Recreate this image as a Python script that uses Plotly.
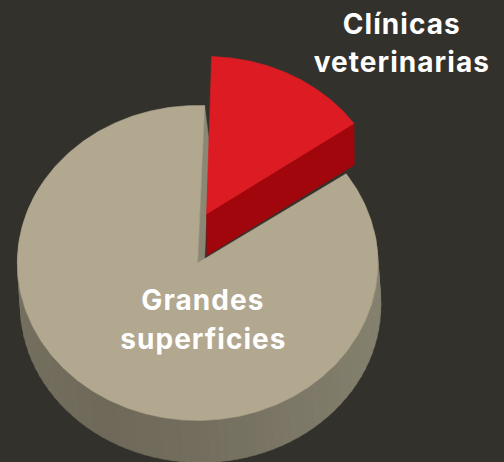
import numpy as np
import plotly.graph_objects as go

# Data
categories = ["Clínicas veterinarias", "Grandes superficies"]
shares = [14.8, 85.2]
label_lines = [["Clínicas", "veterinarias"], ["Grandes", "superficies"]]

# Style / layout
W, H = 504, 462
BG = "#33312C"
RED_TOP, RED_WALL = "#DC1B23", "#A1060C"
MAIN_TOP, MAIN_INNER = "#B2A78F", "#8B8775"
RX, RY = 180.2, 157.5
MAIN_C = (197.6, 263.0)
RED_C = (206.6, 214.0)
MAIN_DEPTH = (3.0, 42.0)
RED_DEPTH = (0.3, 41.5)
INNER_DEPTH = (5.0, 40.0)
RED_START = 1.6
MAIN_START = 55.5
FONT = "Inter"


def pt(c, deg):
    t = np.radians(deg)
    return c[0] + RX * np.sin(t), c[1] - RY * np.cos(t)


def arc(c, a, b, n=160):
    return pt(c, np.linspace(a, b, n))


def shade(deg):
    d = deg % 360
    stops_a = [80, 120, 150, 180, 210, 250, 290]
    r = np.interp(d, stops_a, [0x88, 0x82, 0x7B, 0x72, 0x6E, 0x74, 0x7C])
    g = np.interp(d, stops_a, [0x84, 0x7E, 0x76, 0x6D, 0x69, 0x6F, 0x77])
    b = np.interp(d, stops_a, [0x72, 0x6C, 0x65, 0x5C, 0x59, 0x5E, 0x66])
    return f"rgb({r:.0f},{g:.0f},{b:.0f})"


fig = go.Figure()


def poly(x, y, color):
    fig.add_trace(go.Scatter(x=x, y=y, mode="lines", fill="toself", fillcolor=color,
                             line=dict(color=color, width=0.6), hoverinfo="skip", showlegend=False))


red_sweep = shares[0] / sum(shares) * 360
main_sweep = shares[1] / sum(shares) * 360
red_end = RED_START + red_sweep
main_end = MAIN_START + main_sweep

# outer wall of the large slice, as facets
step = 3.0
for a in np.arange(78, 300, step):
    xt, yt = arc(MAIN_C, a, a + step + 0.3, 4)
    xb = xt[::-1] + MAIN_DEPTH[0]
    yb = yt[::-1] + MAIN_DEPTH[1]
    poly(np.r_[xt, xb, xt[0]], np.r_[yt, yb, yt[0]], shade(a))

# inner wall of the large slice at its cut edge
sx, sy = pt(MAIN_C, main_end)
poly([sx, MAIN_C[0], MAIN_C[0] + INNER_DEPTH[0], sx + INNER_DEPTH[0], sx],
     [sy, MAIN_C[1], MAIN_C[1] + INNER_DEPTH[1], sy + INNER_DEPTH[1], sy], MAIN_INNER)

# top of the large slice
xa, ya = arc(MAIN_C, MAIN_START, main_end, 400)
poly(np.r_[MAIN_C[0], xa, MAIN_C[0]], np.r_[MAIN_C[1], ya, MAIN_C[1]], MAIN_TOP)

# wall of the exploded slice
ex, ey = pt(RED_C, red_end)
poly([RED_C[0], ex, ex + RED_DEPTH[0], RED_C[0] + RED_DEPTH[0], RED_C[0]],
     [RED_C[1], ey, ey + RED_DEPTH[1], RED_C[1] + RED_DEPTH[1], RED_C[1]], RED_WALL)

# top of the exploded slice
xr, yr = arc(RED_C, RED_START, red_end, 120)
poly(np.r_[RED_C[0], xr, RED_C[0]], np.r_[RED_C[1], yr, RED_C[1]], RED_TOP)

label_pos = [[(401.5, 24), (401.5, 62)], [(203, 300), (203, 339)]]
annotations = []
for lines, positions in zip(label_lines, label_pos):
    for text, (x, y) in zip(lines, positions):
        annotations.append(dict(x=x, y=y, xref="x", yref="y", text=f"<b>{text}</b>", showarrow=False,
                                font=dict(family=FONT, size=28, color="#FFFFFF"),
                                xanchor="center", yanchor="middle"))

fig.update_layout(
    width=W, height=H, autosize=False,
    margin=dict(l=0, r=0, t=0, b=0),
    paper_bgcolor=BG, plot_bgcolor=BG,
    showlegend=False,
    xaxis=dict(range=[0, W], visible=False, fixedrange=True),
    yaxis=dict(range=[H, 0], visible=False, fixedrange=True),
    annotations=annotations,
)
post = """
document.documentElement.style.margin='0';
document.documentElement.style.overflow='hidden';
document.documentElement.style.background='#33312C';
document.body.style.margin='0';
document.body.style.background='#33312C';
document.querySelectorAll('.annotation-text').forEach(function(t){t.style.letterSpacing='1.05px';});
"""
fig.write_html("out.html", config={"displayModeBar": False}, post_script=post)
